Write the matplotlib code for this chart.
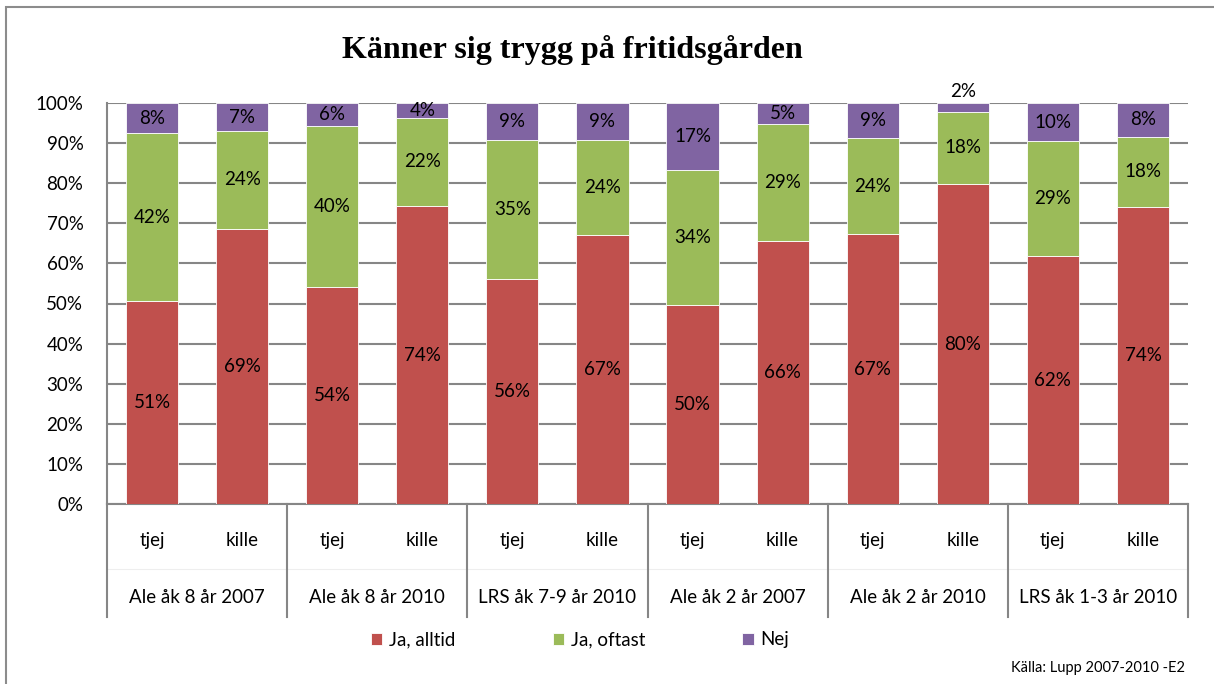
import matplotlib
matplotlib.use("Agg")
import matplotlib.pyplot as plt
from matplotlib.patches import Rectangle

# data (percent)
kon = ["tjej", "kille"] * 6
grupper = ["Ale åk 8 år 2007", "Ale åk 8 år 2010", "LRS åk 7-9 år 2010",
           "Ale åk 2 år 2007", "Ale åk 2 år 2010", "LRS åk 1-3 år 2010"]
ja_alltid = [50.6, 68.6, 54.0, 74.3, 56.1, 67.1, 49.6, 65.7, 67.3, 79.8, 61.8, 74.0]
ja_oftast = [41.8, 24.4, 40.3, 22.0, 34.7, 23.7, 33.7, 29.0, 24.0, 18.0, 28.6, 17.6]
nej = [7.6, 7.0, 5.7, 3.7, 9.2, 9.2, 16.7, 5.3, 8.7, 2.2, 9.6, 8.4]
serier = ["Ja, alltid", "Ja, oftast", "Nej"]
farger = ["#C0504D", "#9BBB59", "#8064A2"]

W, H = 1214, 684
fig = plt.figure(figsize=(W / 100, H / 100), dpi=100)
ax = fig.add_axes([107 / W, 1 - 504 / H, (1188 - 107) / W, (504 - 103) / H])

lab_font = "Lato"
fs = 13.5
grid_c = "#868686"

x = list(range(len(kon)))
bottom = [0] * len(x)
for vals, namn, c in zip([ja_alltid, ja_oftast, nej], serier, farger):
    ax.bar(x, vals, 0.58, bottom=bottom, color=c, label=namn,
           edgecolor="white", linewidth=0.6, zorder=3)
    for i, v in enumerate(vals):
        if v < 3 and namn == "Nej" and bottom[i] + v > 99:
            ypos = 100 + 2.8
        else:
            ypos = bottom[i] + v / 2
        ax.text(i, ypos, "%.0f%%" % v, ha="center", va="center",
                fontsize=fs, family=lab_font, color="black", zorder=4,
                clip_on=False)
    bottom = [b + v for b, v in zip(bottom, vals)]

ax.set_xlim(-0.5, len(x) - 0.5)
ax.set_ylim(0, 100)
ax.set_yticks(range(0, 101, 10))
ax.set_yticklabels(["%d%%" % t for t in range(0, 101, 10)],
                   fontsize=fs, family=lab_font)
ax.tick_params(axis="y", length=0, pad=17)
ax.tick_params(axis="x", length=0, labelbottom=False)
ax.grid(axis="y", color=grid_c, linewidth=1.5, zorder=0)
for s in ["top", "right"]:
    ax.spines[s].set_visible(False)
for s in ["left", "bottom"]:
    ax.spines[s].set_color(grid_c)
    ax.spines[s].set_linewidth(1.5)

# two-level category axis
tr = ax.get_xaxis_transform()
for i, k in enumerate(kon):
    ax.text(i, -0.092, k, transform=tr, ha="center", va="center",
            fontsize=fs, family=lab_font)
for g, namn in enumerate(grupper):
    ax.text(2 * g + 0.5, -0.234, namn, transform=tr, ha="center", va="center",
            fontsize=fs, family=lab_font)
for b in range(0, len(kon) + 1, 2):
    ax.plot([b - 0.5, b - 0.5], [0, -0.282], transform=tr, color=grid_c,
            linewidth=1.5, clip_on=False, zorder=5)
ax.plot([-0.5, len(kon) - 0.5], [-0.163, -0.163], transform=tr, color="#eeeeee",
        linewidth=0.8, clip_on=False)

fig.text(572 / W, 1 - 50 / H, "Känner sig trygg på fritidsgården",
         ha="center", va="center", fontsize=23, fontweight="bold",
         family="Liberation Serif")

leg = fig.legend(loc="center", bbox_to_anchor=(580 / W, 1 - 640 / H), ncol=3,
                 frameon=False, prop={"family": lab_font, "size": fs},
                 handlelength=0.6, handleheight=0.6, handletextpad=0.35,
                 columnspacing=5.2)

fig.text(1185 / W, 1 - 668 / H, "Källa: Lupp 2007-2010 -E2", ha="right",
         va="center", fontsize=10.5, family=lab_font)

fig.patches.append(Rectangle((6 / W, -0.1), 1.2, 1 - 7 / H + 0.1,
                             transform=fig.transFigure, fill=False,
                             edgecolor="#8c8c8c", linewidth=1.5))

fig.savefig("out.png", dpi=100)
